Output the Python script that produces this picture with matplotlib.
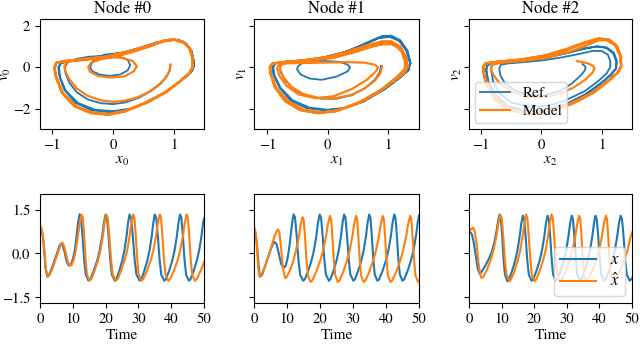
import numpy as np
import matplotlib
matplotlib.use("Agg")
import matplotlib.pyplot as plt

plt.rcParams['font.family'] = ['STIXGeneral', 'DejaVu Serif']
plt.rcParams['mathtext.fontset'] = 'stix'
plt.rcParams['font.size'] = 11
plt.rcParams['xtick.labelsize'] = 10.5
plt.rcParams['ytick.labelsize'] = 10.5

C_REF = '#1f77b4'
C_MOD = '#ff7f0e'

titles = ['Node #0', 'Node #1', 'Node #2']
phase_xlabels = ['$x_0$', '$x_1$', '$x_2$']
phase_ylabels = ['$v_0$', '$v_1$', '$v_2$']
phase_legend = ['Ref.', 'Model']
ts_legend = ['$x$', r'$\hat{x}$']

# ---- phase portraits (x, v) ----
phase_ref_0 = [
    (0.94, 0.13), (0.93, -0.15), (0.88, -0.45), (0.78, -0.8), (0.62, -1.15), (0.42, -1.48), (0.2, -1.7),
    (0.0, -1.78), (-0.2, -1.74), (-0.42, -1.55), (-0.6, -1.2), (-0.72, -0.75), (-0.78, -0.3), (-0.79, 0.0),
    (-0.74, 0.25), (-0.6, 0.4), (-0.4, 0.5), (-0.15, 0.55), (0.1, 0.5), (0.24, 0.35), (0.28, 0.1),
    (0.24, -0.15), (0.12, -0.35), (-0.05, -0.42), (-0.22, -0.36), (-0.34, -0.2), (-0.38, 0.0), (-0.33, 0.3),
    (-0.15, 0.6), (0.1, 0.68), (0.35, 0.82), (0.6, 1.04), (0.82, 1.26), (1.0, 1.33), (1.15, 1.23),
    (1.25, 0.95), (1.31, 0.5), (1.33, 0.05), (1.28, -0.25), (1.12, -0.65), (0.9, -1.15), (0.62, -1.62),
    (0.32, -1.98), (0.0, -2.12), (-0.3, -2.05), (-0.58, -1.72), (-0.78, -1.12), (-0.87, -0.5), (-0.89, 0.0),
    (-0.85, 0.2), (-0.7, 0.3), (-0.45, 0.38), (-0.15, 0.52), (0.15, 0.68), (0.45, 0.92), (0.72, 1.18),
    (0.92, 1.31), (1.07, 1.31), (1.2, 1.12), (1.28, 0.75), (1.32, 0.3), (1.31, -0.1), (1.24, -0.35),
    (1.08, -0.72), (0.85, -1.22), (0.55, -1.72), (0.25, -2.05), (-0.05, -2.17), (-0.35, -2.08), (-0.62, -1.72),
    (-0.8, -1.1), (-0.88, -0.45), (-0.9, 0.0), (-0.86, 0.2), (-0.7, 0.31), (-0.45, 0.4), (-0.15, 0.54),
    (0.15, 0.7), (0.45, 0.95), (0.72, 1.2), (0.92, 1.33), (1.07, 1.32), (1.2, 1.14), (1.29, 0.78),
    (1.32, 0.3)]
phase_mod_0 = [
    (0.94, 0.1), (0.92, -0.2), (0.86, -0.5), (0.75, -0.85), (0.58, -1.2), (0.38, -1.48), (0.18, -1.62),
    (0.0, -1.67), (-0.2, -1.6), (-0.42, -1.38), (-0.6, -1.02), (-0.72, -0.58), (-0.79, -0.15), (-0.8, 0.05),
    (-0.76, 0.22), (-0.6, 0.35), (-0.35, 0.45), (-0.1, 0.48), (0.15, 0.45), (0.32, 0.3), (0.39, 0.05),
    (0.34, -0.2), (0.18, -0.45), (-0.05, -0.5), (-0.25, -0.42), (-0.38, -0.22), (-0.41, 0.0), (-0.36, 0.22),
    (-0.2, 0.38), (0.1, 0.55), (0.4, 0.8), (0.65, 1.05), (0.85, 1.27), (1.0, 1.32), (1.15, 1.18),
    (1.25, 0.9), (1.3, 0.45), (1.31, 0.0), (1.26, -0.25), (1.12, -0.63), (0.88, -1.19), (0.55, -1.7),
    (0.22, -2.1), (-0.05, -2.27), (-0.33, -2.2), (-0.6, -1.9), (-0.82, -1.27), (-0.93, -0.47), (-0.96, -0.05),
    (-0.93, 0.22), (-0.8, 0.3), (-0.5, 0.36), (-0.1, 0.52), (0.3, 0.8), (0.6, 1.05), (0.82, 1.28),
    (1.0, 1.34), (1.17, 1.2), (1.27, 0.85), (1.31, 0.35), (1.3, -0.05), (1.25, -0.28), (1.1, -0.68),
    (0.85, -1.24), (0.52, -1.75), (0.2, -2.13), (-0.08, -2.3), (-0.36, -2.22), (-0.63, -1.9), (-0.84, -1.25),
    (-0.94, -0.45), (-0.97, -0.05), (-0.94, 0.2), (-0.8, 0.28), (-0.5, 0.34), (-0.1, 0.5), (0.3, 0.78),
    (0.6, 1.02), (0.83, 1.25), (1.0, 1.31), (1.16, 1.19), (1.26, 0.88), (1.3, 0.4), (1.3, 0.0),
    (1.24, -0.3), (1.09, -0.7), (0.84, -1.22), (0.5, -1.74), (0.18, -2.12), (-0.1, -2.27), (-0.38, -2.18),
    (-0.64, -1.86), (-0.84, -1.22), (-0.94, -0.45), (-0.96, -0.05), (-0.93, 0.2), (-0.8, 0.29), (-0.5, 0.35),
    (-0.1, 0.51), (0.3, 0.79), (0.6, 1.04), (0.83, 1.27), (1.0, 1.33)]

phase_ref_1 = [
    (0.88, 0.06), (0.86, -0.25), (0.78, -0.6), (0.62, -1.0), (0.4, -1.35), (0.15, -1.52), (-0.1, -1.52),
    (-0.35, -1.38), (-0.55, -1.1), (-0.7, -0.65), (-0.78, -0.25), (-0.79, 0.0), (-0.75, 0.2), (-0.6, 0.28),
    (-0.35, 0.32), (-0.05, 0.3), (0.2, 0.25), (0.33, 0.12), (0.37, -0.02), (0.33, -0.2), (0.15, -0.45),
    (-0.1, -0.61), (-0.3, -0.55), (-0.45, -0.35), (-0.51, -0.1), (-0.49, 0.05), (-0.42, 0.2), (-0.2, 0.35),
    (0.1, 0.55), (0.4, 0.85), (0.7, 1.25), (0.9, 1.5), (1.05, 1.52), (1.2, 1.3), (1.32, 0.8),
    (1.37, 0.2), (1.34, -0.15), (1.2, -0.5), (0.95, -1.05), (0.62, -1.6), (0.3, -1.95), (0.0, -2.05),
    (-0.3, -1.95), (-0.58, -1.6), (-0.78, -1.0), (-0.88, -0.4), (-0.9, 0.0), (-0.86, 0.18), (-0.7, 0.26),
    (-0.4, 0.33), (-0.05, 0.48), (0.3, 0.75), (0.6, 1.1), (0.85, 1.42), (1.02, 1.48), (1.18, 1.28),
    (1.3, 0.8), (1.36, 0.2), (1.33, -0.15), (1.18, -0.52), (0.92, -1.1), (0.58, -1.68), (0.25, -2.0),
    (-0.05, -2.08), (-0.35, -1.98), (-0.62, -1.6), (-0.8, -0.98), (-0.9, -0.35), (-0.92, 0.0), (-0.88, 0.18),
    (-0.72, 0.26), (-0.4, 0.33), (-0.05, 0.48), (0.3, 0.74), (0.6, 1.08), (0.85, 1.4), (1.03, 1.46),
    (1.19, 1.26), (1.31, 0.78), (1.37, 0.18)]
phase_mod_1 = [
    (0.9, 0.05), (0.87, -0.3), (0.78, -0.65), (0.6, -1.05), (0.38, -1.35), (0.12, -1.5), (-0.15, -1.48),
    (-0.4, -1.3), (-0.6, -0.95), (-0.73, -0.5), (-0.79, -0.1), (-0.78, 0.1), (-0.7, 0.18), (-0.4, 0.2),
    (-0.05, 0.22), (0.3, 0.24), (0.6, 0.22), (0.78, 0.12), (0.83, 0.0), (0.8, -0.2), (0.65, -0.6),
    (0.4, -1.05), (0.1, -1.4), (-0.2, -1.5), (-0.48, -1.32), (-0.68, -0.9), (-0.8, -0.42), (-0.84, -0.05),
    (-0.8, 0.15), (-0.62, 0.24), (-0.3, 0.3), (0.1, 0.45), (0.45, 0.72), (0.75, 1.0), (0.95, 1.15),
    (1.1, 1.1), (1.22, 0.75), (1.28, 0.25), (1.27, -0.1), (1.15, -0.45), (0.9, -1.05), (0.55, -1.65),
    (0.2, -2.05), (-0.1, -2.18), (-0.4, -2.05), (-0.65, -1.65), (-0.85, -1.0), (-0.94, -0.35), (-0.95, 0.0),
    (-0.92, 0.17), (-0.75, 0.24), (-0.4, 0.33), (0.0, 0.5), (0.35, 0.78), (0.65, 1.05), (0.9, 1.25),
    (1.05, 1.25), (1.2, 1.0), (1.3, 0.5), (1.32, 0.0), (1.26, -0.3), (1.1, -0.65), (0.85, -1.2),
    (0.5, -1.75), (0.15, -2.12), (-0.15, -2.22), (-0.45, -2.08), (-0.7, -1.65), (-0.88, -0.95), (-0.95, -0.3),
    (-0.96, 0.0), (-0.92, 0.17), (-0.75, 0.24), (-0.4, 0.32), (0.0, 0.48), (0.35, 0.74), (0.65, 1.0),
    (0.9, 1.18), (1.05, 1.18), (1.2, 0.95), (1.29, 0.45), (1.31, 0.0), (1.25, -0.3), (1.08, -0.68),
    (0.82, -1.22), (0.48, -1.76), (0.12, -2.12), (-0.18, -2.2), (-0.47, -2.05), (-0.72, -1.6), (-0.88, -0.9),
    (-0.95, -0.25), (-0.96, 0.0), (-0.92, 0.16), (-0.75, 0.23), (-0.4, 0.31), (0.0, 0.46), (0.35, 0.7),
    (0.65, 0.95), (0.9, 1.1), (1.06, 1.1), (1.21, 0.88), (1.3, 0.4), (1.32, 0.0)]

phase_ref_2 = [
    (0.68, 0.15), (0.73, 0.02), (0.72, -0.15), (0.65, -0.4), (0.5, -0.8), (0.3, -1.15), (0.05, -1.35),
    (-0.2, -1.35), (-0.42, -1.15), (-0.6, -0.8), (-0.68, -0.4), (-0.7, -0.05), (-0.67, 0.12), (-0.55, 0.18),
    (-0.3, 0.24), (0.0, 0.32), (0.3, 0.45), (0.6, 0.62), (0.85, 0.78), (1.0, 0.78), (1.1, 0.6),
    (1.14, 0.3), (1.14, 0.0), (1.08, -0.3), (0.95, -0.65), (0.72, -1.15), (0.4, -1.6), (0.08, -1.88),
    (-0.22, -1.9), (-0.5, -1.7), (-0.7, -1.25), (-0.8, -0.7), (-0.83, -0.2), (-0.83, 0.05), (-0.78, 0.18),
    (-0.6, 0.24), (-0.3, 0.32), (0.05, 0.45), (0.4, 0.65), (0.7, 0.88), (0.93, 1.0), (1.08, 0.95),
    (1.2, 0.7), (1.25, 0.3), (1.24, -0.05), (1.16, -0.35), (1.0, -0.75), (0.75, -1.3), (0.4, -1.8),
    (0.05, -2.08), (-0.25, -2.12), (-0.55, -1.88), (-0.76, -1.35), (-0.88, -0.7), (-0.91, -0.15), (-0.9, 0.05),
    (-0.85, 0.18), (-0.62, 0.25), (-0.3, 0.33), (0.05, 0.47), (0.4, 0.68), (0.7, 0.9), (0.92, 1.0),
    (1.08, 0.92), (1.19, 0.65), (1.24, 0.25), (1.23, -0.08), (1.14, -0.38), (0.98, -0.78), (0.72, -1.32),
    (0.38, -1.82), (0.03, -2.1), (-0.28, -2.12), (-0.58, -1.86), (-0.78, -1.3), (-0.89, -0.65), (-0.92, -0.1),
    (-0.9, 0.06), (-0.85, 0.18), (-0.62, 0.25), (-0.3, 0.33), (0.05, 0.47), (0.4, 0.68)]
phase_mod_2 = [
    (0.59, 0.29), (0.75, 0.2), (0.85, 0.08), (0.88, -0.05), (0.85, -0.25), (0.72, -0.62), (0.52, -1.0),
    (0.28, -1.3), (0.0, -1.45), (-0.28, -1.4), (-0.52, -1.15), (-0.7, -0.75), (-0.8, -0.35), (-0.84, -0.05),
    (-0.8, 0.14), (-0.62, 0.22), (-0.3, 0.3), (0.1, 0.45), (0.45, 0.72), (0.75, 1.05), (0.95, 1.3),
    (1.08, 1.3), (1.22, 1.05), (1.3, 0.55), (1.32, 0.05), (1.27, -0.25), (1.12, -0.65), (0.88, -1.2),
    (0.55, -1.72), (0.2, -2.1), (-0.12, -2.22), (-0.45, -2.08), (-0.7, -1.65), (-0.88, -0.95), (-0.95, -0.3),
    (-0.96, 0.0), (-0.92, 0.18), (-0.72, 0.25), (-0.35, 0.34), (0.05, 0.52), (0.42, 0.82), (0.72, 1.15),
    (0.95, 1.36), (1.1, 1.33), (1.24, 1.05), (1.31, 0.55), (1.32, 0.05), (1.26, -0.27), (1.1, -0.68),
    (0.85, -1.24), (0.5, -1.76), (0.15, -2.13), (-0.17, -2.24), (-0.5, -2.08), (-0.74, -1.62), (-0.9, -0.92),
    (-0.96, -0.28), (-0.97, 0.0), (-0.93, 0.18), (-0.72, 0.26), (-0.35, 0.36), (0.05, 0.55), (0.42, 0.86),
    (0.72, 1.18), (0.96, 1.38), (1.12, 1.34), (1.25, 1.03), (1.32, 0.5), (1.32, 0.02), (1.25, -0.3),
    (1.08, -0.7), (0.82, -1.26), (0.46, -1.78), (0.1, -2.15), (-0.22, -2.24), (-0.54, -2.06), (-0.77, -1.58),
    (-0.91, -0.88), (-0.96, -0.25), (-0.97, 0.0), (-0.93, 0.18), (-0.72, 0.27), (-0.35, 0.37), (0.05, 0.56),
    (0.42, 0.88), (0.72, 1.2), (0.96, 1.4)]

# ---- time series (t, x) ----
ts_ref_0 = [
    (0.0, 0.93), (0.4, 0.85), (0.9, 0.55), (1.3, 0.05), (1.7, -0.5), (2.2, -0.79), (2.8, -0.72), (3.6, -0.5),
    (4.5, -0.22), (5.4, 0.08), (6.0, 0.28), (6.5, 0.35), (7.0, 0.25), (7.6, 0.0), (8.2, -0.3), (8.8, -0.41),
    (9.4, -0.38), (10.0, -0.2), (10.6, 0.1), (11.1, 0.55), (11.6, 1.05), (12.1, 1.34),
    (12.5, 1.22), (12.96, 0.6), (13.45, -0.2), (13.94, -0.72), (14.8, -0.93),
    (15.32, -0.88), (16.36, -0.6), (17.4, -0.25), (18.18, 0.1), (18.96, 0.6), (19.48, 1.05), (20.0, 1.33),
    (20.42, 1.22), (20.9, 0.6), (21.4, -0.2), (21.9, -0.72), (22.8, -0.93),
    (23.25, -0.88), (24.15, -0.6), (25.05, -0.25), (25.73, 0.1), (26.4, 0.6), (26.85, 1.05), (27.3, 1.33),
    (27.77, 1.22), (28.29, 0.6), (28.85, -0.2), (29.41, -0.72), (30.4, -0.93),
    (30.86, -0.88), (31.78, -0.6), (32.7, -0.25), (33.39, 0.1), (34.08, 0.6), (34.54, 1.05), (35.0, 1.33),
    (35.44, 1.22), (35.93, 0.6), (36.45, -0.2), (36.97, -0.72), (37.9, -0.93),
    (38.38, -0.88), (39.34, -0.6), (40.3, -0.25), (41.02, 0.1), (41.74, 0.6), (42.22, 1.05), (42.7, 1.33),
    (43.1, 1.22), (43.56, 0.6), (44.05, -0.2), (44.54, -0.72), (45.4, -0.93),
    (45.88, -0.88), (46.84, -0.6), (47.8, -0.25), (48.52, 0.1), (49.24, 0.6), (49.72, 1.05), (50.0, 1.2)]
ts_mod_0 = [
    (0.0, 0.93), (0.4, 0.86), (0.9, 0.6), (1.4, 0.05), (1.8, -0.55), (2.4, -0.8), (3.0, -0.72), (3.9, -0.48),
    (4.8, -0.2), (5.7, 0.1), (6.3, 0.3), (6.8, 0.37), (7.3, 0.27), (7.9, 0.0), (8.5, -0.3), (9.1, -0.42),
    (9.7, -0.38), (10.3, -0.2), (10.9, 0.1), (11.5, 0.55), (12.1, 1.02), (12.7, 1.32),
    (13.06, 1.22), (13.47, 0.6), (13.9, -0.2), (14.33, -0.72), (15.1, -0.93),
    (15.61, -0.88), (16.63, -0.6), (17.65, -0.25), (18.42, 0.1), (19.18, 0.6), (19.69, 1.05), (20.2, 1.33),
    (20.64, 1.22), (21.13, 0.6), (21.65, -0.2), (22.17, -0.72), (23.1, -0.93),
    (23.63, -0.88), (24.69, -0.6), (25.75, -0.25), (26.55, 0.1), (27.34, 0.6), (27.87, 1.05), (28.4, 1.33),
    (28.78, 1.22), (29.2, 0.6), (29.65, -0.2), (30.1, -0.72), (30.9, -0.93),
    (31.46, -0.88), (32.58, -0.6), (33.7, -0.25), (34.54, 0.1), (35.38, 0.6), (35.94, 1.05), (36.5, 1.33),
    (36.89, 1.22), (37.33, 0.6), (37.8, -0.2), (38.27, -0.72), (39.1, -0.93),
    (39.66, -0.88), (40.78, -0.6), (41.9, -0.25), (42.74, 0.1), (43.58, 0.6), (44.14, 1.05), (44.7, 1.33),
    (45.08, 1.22), (45.5, 0.6), (45.95, -0.2), (46.4, -0.72), (47.2, -0.93),
    (47.78, -0.88), (48.94, -0.6), (50.0, -0.3)]

ts_ref_1 = [
    (0.0, 0.85), (0.4, 0.72), (0.8, 0.4), (1.2, -0.1), (1.5, -0.55), (1.9, -0.79), (2.5, -0.72), (3.3, -0.45),
    (4.2, -0.15), (5.0, 0.12), (5.7, 0.32), (6.3, 0.39), (6.9, 0.3), (7.5, 0.0), (8.2, -0.35), (9.0, -0.49),
    (9.6, -0.42), (10.2, -0.15), (10.8, 0.3), (11.3, 0.8), (11.7, 1.15), (12.0, 1.34),
    (12.44, 1.22), (12.93, 0.6), (13.45, -0.2), (13.97, -0.72), (14.9, -0.93),
    (15.4, -0.88), (16.4, -0.6), (17.4, -0.25), (18.15, 0.1), (18.9, 0.6), (19.4, 1.05), (19.9, 1.33),
    (20.32, 1.22), (20.8, 0.6), (21.3, -0.2), (21.8, -0.72), (22.7, -0.93),
    (23.16, -0.88), (24.08, -0.6), (25.0, -0.25), (25.69, 0.1), (26.38, 0.6), (26.84, 1.05), (27.3, 1.33),
    (27.72, 1.22), (28.2, 0.6), (28.7, -0.2), (29.2, -0.72), (30.1, -0.93),
    (30.58, -0.88), (31.54, -0.6), (32.5, -0.25), (33.22, 0.1), (33.94, 0.6), (34.42, 1.05), (34.9, 1.33),
    (35.28, 1.22), (35.7, 0.6), (36.15, -0.2), (36.6, -0.72), (37.4, -0.93),
    (37.91, -0.88), (38.93, -0.6), (39.95, -0.25), (40.72, 0.1), (41.48, 0.6), (41.99, 1.05), (42.5, 1.33),
    (42.88, 1.22), (43.3, 0.6), (43.75, -0.2), (44.2, -0.72), (45.0, -0.93),
    (45.51, -0.88), (46.53, -0.6), (47.55, -0.25), (48.32, 0.1), (49.08, 0.6), (49.59, 1.05), (50.0, 1.3)]
ts_mod_1 = [
    (0.0, 0.9), (0.4, 0.78), (0.8, 0.4), (1.1, -0.2), (1.4, -0.6), (1.7, -0.79), (2.3, -0.72), (3.3, -0.45),
    (4.3, -0.12), (5.3, 0.25), (6.2, 0.58), (6.8, 0.75), (7.3, 0.82), (7.7, 0.7), (8.2, 0.2), (8.7, -0.45),
    (9.4, -0.84),
    (9.93, -0.8), (10.99, -0.55), (12.05, -0.2), (12.85, 0.15), (13.64, 0.6), (14.17, 1.0), (14.7, 1.24),
    (15.06, 1.15), (15.47, 0.55), (15.9, -0.2), (16.33, -0.75), (17.1, -0.97),
    (17.69, -0.92), (18.87, -0.62), (20.05, -0.25), (20.94, 0.1), (21.82, 0.58), (22.41, 1.0), (23.0, 1.28),
    (23.36, 1.18), (23.77, 0.55), (24.2, -0.2), (24.63, -0.75), (25.4, -0.97),
    (25.95, -0.92), (27.05, -0.62), (28.15, -0.25), (28.98, 0.1), (29.8, 0.58), (30.35, 1.0), (30.9, 1.28),
    (31.25, 1.18), (31.64, 0.55), (32.05, -0.2), (32.46, -0.75), (33.2, -0.97),
    (33.78, -0.92), (34.94, -0.62), (36.1, -0.25), (36.97, 0.1), (37.84, 0.58), (38.42, 1.0), (39.0, 1.28),
    (39.35, 1.18), (39.74, 0.55), (40.15, -0.2), (40.56, -0.75), (41.3, -0.97),
    (41.9, -0.92), (43.1, -0.62), (44.3, -0.25), (45.2, 0.1), (46.1, 0.58), (46.7, 1.0), (47.3, 1.28),
    (47.66, 1.18), (48.07, 0.55), (48.5, -0.2), (48.93, -0.75), (49.7, -0.97), (50.0, -0.92)]

ts_ref_2 = [
    (0.0, 0.68), (0.4, 0.73), (0.9, 0.65), (1.5, 0.35), (2.1, -0.1), (2.7, -0.52), (3.3, -0.7), (4.0, -0.6),
    (5.0, -0.42), (6.0, -0.2), (7.0, 0.05), (7.8, 0.4), (8.5, 0.8), (9.0, 1.15), (9.4, 1.33),
    (9.76, 1.22), (10.17, 0.6), (10.6, -0.2), (11.03, -0.72), (11.8, -0.95),
    (12.27, -0.88), (13.21, -0.6), (14.15, -0.25), (14.86, 0.1), (15.56, 0.6), (16.03, 1.02), (16.5, 1.29),
    (16.9, 1.18), (17.36, 0.6), (17.85, -0.2), (18.34, -0.72), (19.2, -0.93),
    (19.69, -0.88), (20.67, -0.6), (21.65, -0.25), (22.39, 0.1), (23.12, 0.6), (23.61, 1.02), (24.1, 1.29),
    (24.48, 1.18), (24.9, 0.6), (25.35, -0.2), (25.8, -0.72), (26.6, -0.93),
    (27.09, -0.88), (28.07, -0.6), (29.05, -0.25), (29.79, 0.1), (30.52, 0.6), (31.01, 1.02), (31.5, 1.29),
    (31.88, 1.18), (32.3, 0.6), (32.75, -0.2), (33.2, -0.72), (34.0, -0.93),
    (34.48, -0.88), (35.44, -0.6), (36.4, -0.25), (37.12, 0.1), (37.84, 0.6), (38.32, 1.02), (38.8, 1.29),
    (39.19, 1.18), (39.63, 0.6), (40.1, -0.2), (40.57, -0.72), (41.4, -0.93),
    (41.91, -0.88), (42.93, -0.6), (43.95, -0.25), (44.72, 0.1), (45.48, 0.6), (45.99, 1.02), (46.5, 1.29),
    (46.92, 1.18), (47.4, 0.6), (47.9, -0.2), (48.4, -0.72), (49.3, -0.93), (50.0, -0.85)]
ts_mod_2 = [
    (0.0, 0.73), (0.5, 0.82), (1.2, 0.88), (1.7, 0.78), (2.3, 0.35), (2.9, -0.3), (3.4, -0.7), (3.8, -0.84),
    (4.38, -0.8), (5.54, -0.55), (6.7, -0.2), (7.57, 0.15), (8.44, 0.6), (9.02, 1.02), (9.6, 1.33),
    (10.02, 1.22), (10.5, 0.6), (11.0, -0.2), (11.5, -0.72), (12.4, -0.95),
    (12.91, -0.88), (13.93, -0.6), (14.95, -0.25), (15.72, 0.1), (16.48, 0.6), (16.99, 1.05), (17.5, 1.33),
    (17.89, 1.22), (18.33, 0.6), (18.8, -0.2), (19.27, -0.72), (20.1, -0.95),
    (20.62, -0.88), (21.66, -0.6), (22.7, -0.25), (23.48, 0.1), (24.26, 0.6), (24.78, 1.05), (25.3, 1.33),
    (25.69, 1.22), (26.13, 0.6), (26.6, -0.2), (27.07, -0.72), (27.9, -0.95),
    (28.49, -0.88), (29.67, -0.6), (30.85, -0.25), (31.74, 0.1), (32.62, 0.6), (33.21, 1.02), (33.8, 1.29),
    (34.13, 1.18), (34.5, 0.6), (34.9, -0.2), (35.3, -0.72), (36.0, -0.93),
    (36.6, -0.88), (37.8, -0.6), (39.0, -0.25), (39.9, 0.1), (40.8, 0.6), (41.4, 1.02), (42.0, 1.29),
    (42.33, 1.18), (42.7, 0.6), (43.1, -0.2), (43.5, -0.72), (44.2, -0.93),
    (44.88, -0.88), (46.24, -0.6), (47.6, -0.25), (48.62, 0.1), (49.64, 0.6), (50.0, 0.72)]

phase_ref = [phase_ref_0, phase_ref_1, phase_ref_2]
phase_mod = [phase_mod_0, phase_mod_1, phase_mod_2]
ts_ref = [ts_ref_0, ts_ref_1, ts_ref_2]
ts_mod = [ts_mod_0, ts_mod_1, ts_mod_2]

fig = plt.figure(figsize=(6.4, 3.44), dpi=100)
W, H = 640, 344
lefts = [40, 254, 469]
widths = [164, 165, 163]
xlims = [(-1.2, 1.49), (-1.22, 1.51), (-1.2, 1.5)]

top_axes, bot_axes = [], []
for i in range(3):
    ax = fig.add_axes([lefts[i] / W, 1 - 129 / H, widths[i] / W, 110 / H],
                      sharey=top_axes[0] if i else None)
    top_axes.append(ax)
    ax2 = fig.add_axes([lefts[i] / W, 1 - 303 / H, widths[i] / W, 109 / H],
                       sharey=bot_axes[0] if i else None)
    bot_axes.append(ax2)

for i in range(3):
    ax = top_axes[i]
    pr = np.array(phase_ref[i])
    pm = np.array(phase_mod[i])
    ax.plot(pr[:, 0], pr[:, 1], color=C_REF, lw=1.3, label=phase_legend[0])
    ax.plot(pm[:, 0], pm[:, 1], color=C_MOD, lw=1.6, label=phase_legend[1])
    ax.set_xlim(*xlims[i])
    ax.set_ylim(-2.98, 2.32)
    ax.set_xticks([-1, 0, 1])
    ax.set_yticks([-2, 0, 2])
    ax.set_title(titles[i], fontsize=12, pad=4)
    ax.set_xlabel(phase_xlabels[i], labelpad=2)
    ax.set_ylabel(phase_ylabels[i], labelpad=0)
    if i:
        ax.tick_params(labelleft=False)

    bx = bot_axes[i]
    tr = np.array(ts_ref[i])
    tm = np.array(ts_mod[i])
    bx.plot(tr[:, 0], tr[:, 1], color=C_REF, lw=1.5, label=ts_legend[0])
    bx.plot(tm[:, 0], tm[:, 1], color=C_MOD, lw=1.5, label=ts_legend[1])
    bx.set_xlim(0, 50)
    bx.set_ylim(-1.69, 2.03)
    bx.set_xticks([0, 10, 20, 30, 40, 50])
    bx.set_yticks([-1.5, 0.0, 1.5])
    bx.set_xlabel('Time', labelpad=2)
    if i:
        bx.tick_params(labelleft=False)

top_axes[2].legend(loc='lower left', fontsize=11, handlelength=2.0,
                   borderaxespad=0.4, borderpad=0.3, labelspacing=0.3)
bot_axes[2].legend(loc='lower right', fontsize=12, handlelength=2.2,
                   borderaxespad=0.4, borderpad=0.35, labelspacing=0.3)

fig.savefig('out.png', dpi=100)
